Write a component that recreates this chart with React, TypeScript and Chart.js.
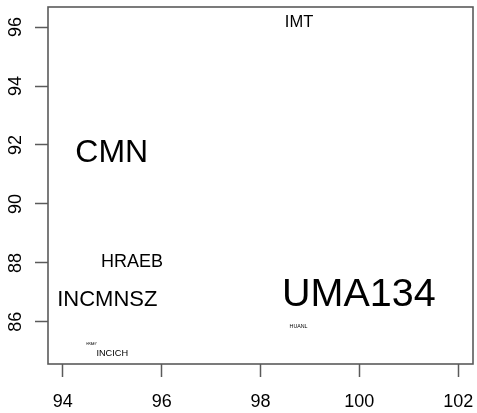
import React, { useEffect, useRef } from "react";
import { Chart, registerables } from "chart.js";

Chart.register(...registerables);

const labels = ["IMT", "CMN", "HRAEB", "INCMNSZ", "UMA134", "HUANL", "INCICH", "HRAEY"];
const xValues = [98.78, 94.99, 95.40, 94.90, 99.99, 98.77, 95.0, 94.58];
const yValues = [96.19, 91.82, 88.09, 86.79, 87.02, 85.85, 84.95, 85.24];
const labelSizes = [16.5, 32, 18, 22, 39.5, 5.3, 9.2, 3];
const xTicks = [94, 96, 98, 100, 102];
const yTicks = [86, 88, 90, 92, 94, 96];

const FONT = "'Liberation Sans', Arial, sans-serif";
const AXIS_COLOR = "#5a5a5a";

const textLabelsPlugin = {
  id: "textLabels",
  afterDraw(chart: any) {
    const { ctx, chartArea } = chart;
    const xs = chart.scales.x;
    const ys = chart.scales.y;
    ctx.save();
    ctx.strokeStyle = AXIS_COLOR;
    ctx.lineWidth = 1.6;
    ctx.strokeRect(chartArea.left, chartArea.top, chartArea.right - chartArea.left, chartArea.bottom - chartArea.top);
    ctx.fillStyle = "#000";
    ctx.textAlign = "center";
    ctx.textBaseline = "alphabetic";
    const data = chart.data.datasets[0].data;
    data.forEach((p: any, i: number) => {
      const size = labelSizes[i];
      ctx.font = `${size}px ${FONT}`;
      const px = xs.getPixelForValue(p.x);
      const py = ys.getPixelForValue(p.y);
      ctx.fillText(labels[i], px, py + size * 0.716 / 2);
    });
    ctx.restore();
  },
};

const zeroPad = (scale: any) => {
  scale.paddingLeft = 0;
  scale.paddingRight = 0;
  scale.paddingTop = 0;
  scale.paddingBottom = 0;
};

export default function App() {
  const ref = useRef<HTMLCanvasElement | null>(null);
  useEffect(() => {
    if (!ref.current) return;
    const chart = new Chart(ref.current, {
      type: "scatter",
      data: {
        datasets: [
          {
            data: xValues.map((x, i) => ({ x, y: yValues[i] })),
            pointRadius: 0,
            pointHoverRadius: 0,
            showLine: false,
          },
        ],
      },
      options: {
        animation: false,
        responsive: false,
        events: [],
        layout: { padding: { top: 7, right: 4, left: 0, bottom: 0 }, autoPadding: false },
        plugins: { legend: { display: false }, tooltip: { enabled: false } },
        scales: {
          x: {
            type: "linear",
            min: 93.70,
            max: 102.30,
            afterBuildTicks: (scale: any) => {
              scale.ticks = xTicks.map((v) => ({ value: v }));
            },
            afterFit: (scale: any) => {
              scale.height = 49;
              zeroPad(scale);
            },
            border: { display: false },
            grid: {
              drawOnChartArea: false,
              drawTicks: true,
              tickLength: 13,
              tickColor: AXIS_COLOR,
              tickWidth: 1.5,
            },
            ticks: {
              autoSkip: false,
              maxRotation: 0,
              minRotation: 0,
              padding: 14,
              color: "#000",
              font: { family: FONT, size: 18 },
              callback: (v: any) => String(v),
            },
          },
          y: {
            type: "linear",
            min: 84.57,
            max: 96.68,
            afterBuildTicks: (scale: any) => {
              scale.ticks = yTicks.map((v) => ({ value: v }));
            },
            afterFit: (scale: any) => {
              scale.width = 48;
              zeroPad(scale);
            },
            border: { display: false },
            grid: {
              drawOnChartArea: false,
              drawTicks: true,
              tickLength: 13,
              tickColor: AXIS_COLOR,
              tickWidth: 1.5,
            },
            ticks: {
              autoSkip: false,
              minRotation: 90,
              maxRotation: 90,
              crossAlign: "center",
              padding: 9,
              color: "#000",
              font: { family: FONT, size: 18 },
              callback: (v: any) => String(v),
            },
          },
        },
      },
      plugins: [textLabelsPlugin],
    });
    return () => chart.destroy();
  }, []);
  return (
    <div style={{ position: "absolute", left: 0, top: 0, width: 477, height: 413, background: "#fff" }}>
      <canvas ref={ref} width={477} height={413} style={{ display: "block" }} />
    </div>
  );
}
